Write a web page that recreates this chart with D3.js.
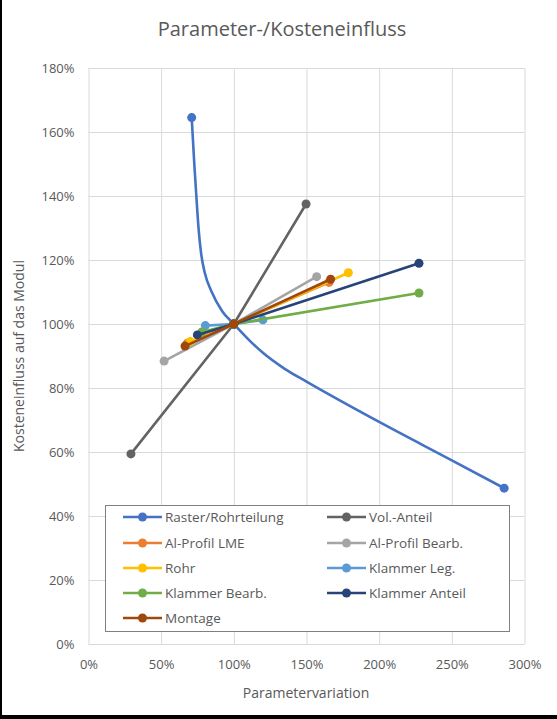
<!DOCTYPE html>
<html>
<head>
<meta charset="utf-8">
<script src="https://cdn.jsdelivr.net/npm/d3@7"></script>
<style>
  html, body { margin: 0; padding: 0; background: #fff; }
  svg { display: block; font-family: "Open Sans", "Liberation Sans", sans-serif; }
</style>
</head>
<body>
<svg id="chart" width="557" height="719"></svg>
<script>
// Parameter variation (x) vs. cost influence on the module (y), both in fractions
const seriesNames = [
  "Raster/Rohrteilung", "Vol.-Anteil", "Al-Profil LME", "Al-Profil Bearb.", "Rohr",
  "Klammer Leg.", "Klammer Bearb.", "Klammer Anteil", "Montage"
];
const seriesColors = [
  "#4472C4", "#636363", "#ED7D31", "#A5A5A5", "#FFC000",
  "#5B9BD5", "#70AD47", "#264478", "#9E480E"
];

const rasterX = [0.71, 0.728, 0.742, 0.757, 0.775, 0.80, 0.848, 0.92, 1.00, 1.10, 1.20, 1.35, 1.50, 2.00, 2.50, 2.86];
const rasterY = [1.645, 1.50, 1.40, 1.30, 1.22, 1.16, 1.10, 1.04, 1.00, 0.952, 0.91, 0.86, 0.82, 0.694, 0.574, 0.487];
const rasterMarkers = [0, 8, 15];

const volX = [0.292, 1.00, 1.497];
const volY = [0.594, 1.00, 1.375];

const lmeX = [0.68, 1.00, 1.655];
const lmeY = [0.94, 1.00, 1.13];

const bearbX = [0.52, 1.00, 1.57];
const bearbY = [0.884, 1.00, 1.148];

const rohrX = [0.70, 1.00, 1.788];
const rohrY = [0.945, 1.00, 1.16];

const legX = [0.804, 1.00, 1.20];
const legY = [0.995, 1.00, 1.013];

const klBearbX = [0.78, 1.00, 2.274];
const klBearbY = [0.975, 1.00, 1.097];

const klAnteilX = [0.749, 1.00, 2.274];
const klAnteilY = [0.966, 1.00, 1.19];

const montageX = [0.664, 1.00, 1.666];
const montageY = [0.931, 1.00, 1.14];

const xTicks = [0, 0.5, 1, 1.5, 2, 2.5, 3];
const yTicks = [0, 0.2, 0.4, 0.6, 0.8, 1.0, 1.2, 1.4, 1.6, 1.8];

const titleText = "Parameter-/Kosteneinfluss";
const xTitle = "Parametervariation";
const yTitle = "Kosteneinfluss auf das Modul";

const xs = [rasterX, volX, lmeX, bearbX, rohrX, legX, klBearbX, klAnteilX, montageX];
const ys = [rasterY, volY, lmeY, bearbY, rohrY, legY, klBearbY, klAnteilY, montageY];

const series = seriesNames.map((name, i) => ({
  name,
  color: seriesColors[i],
  points: xs[i].map((x, j) => ({ x, y: ys[i][j] })),
  markers: i === 0 ? rasterMarkers : xs[i].map((_, j) => j),
  smooth: i === 0
}));

const svg = d3.select("#chart");
const W = 557, H = 719;
const plot = { left: 88.5, right: 524.5, top: 68, bottom: 644 };

const x = d3.scaleLinear().domain([0, 3]).range([plot.left, plot.right]);
const y = d3.scaleLinear().domain([0, 1.8]).range([plot.bottom, plot.top]);
const pct = d3.format(".0%");
const textColor = "#595959";

// frame
svg.append("rect").attr("x", 0).attr("y", 0).attr("width", W).attr("height", H).attr("fill", "#fff");
svg.append("rect").attr("x", 0).attr("y", 0).attr("width", 2).attr("height", H).attr("fill", "#000");
svg.append("rect").attr("x", 0).attr("y", H - 4).attr("width", W).attr("height", 4).attr("fill", "#000");

// title
svg.append("text")
  .attr("x", 282).attr("y", 36)
  .attr("text-anchor", "middle")
  .attr("font-size", 20)
  .attr("fill", textColor)
  .text(titleText);

// gridlines via axes
svg.append("g")
  .attr("transform", `translate(0,${plot.bottom})`)
  .call(d3.axisBottom(x).tickValues(xTicks).tickSize(-(plot.bottom - plot.top)).tickFormat(""))
  .call(g => g.select(".domain").remove())
  .call(g => g.selectAll("line").attr("stroke", "#d9d9d9").attr("stroke-width", 1));

svg.append("g")
  .attr("transform", `translate(${plot.left},0)`)
  .call(d3.axisLeft(y).tickValues(yTicks).tickSize(-(plot.right - plot.left)).tickFormat(""))
  .call(g => g.select(".domain").remove())
  .call(g => g.selectAll("line").attr("stroke", "#d9d9d9").attr("stroke-width", 1));

// tick labels
svg.append("g")
  .attr("transform", `translate(0,${plot.bottom})`)
  .call(d3.axisBottom(x).tickValues(xTicks).tickSize(0).tickPadding(16).tickFormat(pct))
  .call(g => g.select(".domain").remove())
  .call(g => g.selectAll("text").attr("fill", textColor).attr("font-size", 13)
    .attr("font-family", "'Open Sans', sans-serif"));

svg.append("g")
  .attr("transform", `translate(${plot.left},0)`)
  .call(d3.axisLeft(y).tickValues(yTicks).tickSize(0).tickPadding(14).tickFormat(pct))
  .call(g => g.select(".domain").remove())
  .call(g => g.selectAll("text").attr("fill", textColor).attr("font-size", 13)
    .attr("font-family", "'Open Sans', sans-serif"));

// axis titles
svg.append("text")
  .attr("x", 306).attr("y", 698)
  .attr("text-anchor", "middle")
  .attr("font-size", 14)
  .attr("fill", textColor)
  .text(xTitle);

svg.append("text")
  .attr("transform", `translate(24,356) rotate(-90)`)
  .attr("text-anchor", "middle")
  .attr("font-size", 14)
  .attr("fill", textColor)
  .text(yTitle);

// series
const straight = d3.line().x(d => x(d.x)).y(d => y(d.y));
const smooth = d3.line().x(d => x(d.x)).y(d => y(d.y)).curve(d3.curveMonotoneX);

const gSeries = svg.append("g");
series.forEach(s => {
  const g = gSeries.append("g");
  g.append("path")
    .attr("d", (s.smooth ? smooth : straight)(s.points))
    .attr("fill", "none")
    .attr("stroke", s.color)
    .attr("stroke-width", 2.6)
    .attr("stroke-linecap", "round")
    .attr("stroke-linejoin", "round");
  g.selectAll("circle")
    .data(s.markers.map(j => s.points[j]))
    .join("circle")
    .attr("cx", d => x(d.x))
    .attr("cy", d => y(d.y))
    .attr("r", 4.5)
    .attr("fill", s.color);
});

// legend
const legend = svg.append("g");
legend.append("rect")
  .attr("x", 105.5).attr("y", 505.5)
  .attr("width", 404).attr("height", 126)
  .attr("fill", "#fff")
  .attr("stroke", "#808080")
  .attr("stroke-width", 1);

const rowY = [517, 543, 568, 593, 618];
const colX = [123, 327];
series.forEach((s, i) => {
  const cx = colX[i % 2], cy = rowY[Math.floor(i / 2)];
  const item = legend.append("g");
  item.append("line")
    .attr("x1", cx).attr("x2", cx + 39)
    .attr("y1", cy).attr("y2", cy)
    .attr("stroke", s.color).attr("stroke-width", 2.6);
  item.append("circle")
    .attr("cx", cx + 19.5).attr("cy", cy).attr("r", 4.5).attr("fill", s.color);
  item.append("text")
    .attr("x", cx + 42).attr("y", cy)
    .attr("dy", "0.35em")
    .attr("font-size", 13.5)
    .attr("fill", textColor)
    .text(s.name);
});
</script>
</body>
</html>
